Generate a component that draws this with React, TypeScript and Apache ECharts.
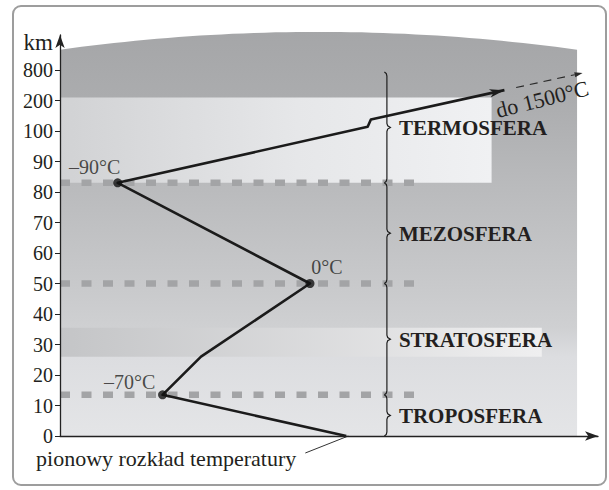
import React, { useEffect, useRef } from 'react';
import * as echarts from 'echarts';

// ---- data ----
const tickLabels = ['0', '10', '20', '30', '40', '50', '60', '70', '80', '90', '100', '200', '800'];
const tickPositions = [0, 1, 2, 3, 4, 5, 6, 7, 8, 9, 10, 11, 12];

const curveTemp = [17, -69, -51, 0, -90, 27, 28.5, 91];
const curveKm = [0, 13.5, 26, 50, 83, 114, 138, 404];

const markerTemp = [-69, 0, -90];
const markerKm = [13.5, 50, 83];
const markerText = ['–70°C', '0°C', '–90°C'];

const layerNames = ['TROPOSFERA', 'STRATOSFERA', 'MEZOSFERA', 'TERMOSFERA'];
const layerBottomKm = [0, 13.5, 50, 83];
const layerTopKm = [13.5, 50, 83, 760];

const boundaryKm = [13.5, 50, 83];

const thermoBandKm = [83, 260];
const thermoBandTemp = [-117, 85];
const stratoBandKm = [26, 35.5];
const stratoBandTemp = [-117, 108.5];

const skyTemp = [-117, 125];
const skyTopKm = [1200, 1550];

const tempRange = [-117, 134.8];
const kmAxisMax = 13.15;
const braceTemp = 36;
const dashEndTemp = 49;
const caption = 'pionowy rozkład temperatury';
const arrowNote = 'do 1500°C';
const axisUnit = 'km';

// piecewise axis position for altitude (0-100 km linear, then 100→200→800)
function yPos(km: number): number {
  if (km <= 100) return km / 10;
  if (km <= 200) return 10 + (km - 100) / 100;
  return 11 + (km - 200) / 600;
}

const SERIF = '"Liberation Serif", "DejaVu Serif", serif';
const INK = '#231f20';

export default function App() {
  const ref = useRef<HTMLDivElement>(null);

  useEffect(() => {
    if (!ref.current) return;
    const chart = echarts.init(ref.current, undefined, { renderer: 'svg' });

    const option: any = {
      animation: false,
      backgroundColor: '#ffffff',
      grid: { left: 60, right: 11, top: 436 - kmAxisMax * 30.5, bottom: 54 },
      xAxis: {
        type: 'value',
        min: tempRange[0],
        max: tempRange[1],
        z: 10,
        axisLine: {
          show: true,
          onZero: false,
          symbol: ['none', 'arrow'],
          symbolSize: [7, 13],
          lineStyle: { color: '#222', width: 1.3 },
        },
        axisTick: { show: false },
        axisLabel: { show: false },
        splitLine: { show: false },
      },
      yAxis: {
        type: 'value',
        min: 0,
        max: kmAxisMax,
        z: 10,
        axisLine: {
          show: true,
          onZero: false,
          symbol: ['none', 'arrow'],
          symbolSize: [7, 13],
          lineStyle: { color: '#222', width: 1.3 },
        },
        axisTick: {
          show: true,
          length: 5,
          customValues: tickPositions,
          lineStyle: { color: '#222', width: 1 },
        },
        axisLabel: {
          customValues: tickPositions,
          formatter: (v: number) => tickLabels[Math.round(v)] ?? '',
          margin: 7,
          fontFamily: SERIF,
          fontSize: 20,
          color: INK,
        },
        splitLine: { show: false },
      },
      graphic: [
        {
          type: 'rect',
          shape: { x: 13, y: 6, width: 593, height: 479, r: 8 },
          style: { fill: 'none', stroke: '#9d9d9d', lineWidth: 2 },
          silent: true,
        },
        {
          type: 'text',
          x: 53,
          y: 42,
          style: { text: axisUnit, font: `23px ${SERIF}`, fill: INK, align: 'right', verticalAlign: 'middle' },
          silent: true,
        },
      ],
      series: [
        // sky background
        {
          type: 'custom',
          coordinateSystem: 'cartesian2d',
          z: 1,
          silent: true,
          clip: false,
          data: [[skyTemp[0], 0]],
          renderItem: (params: any, api: any) => {
            const [x0, yb] = api.coord([skyTemp[0], 0]);
            const [x1] = api.coord([skyTemp[1], 0]);
            const yEdge = api.coord([skyTemp[0], yPos(skyTopKm[0])])[1];
            const yPeak = api.coord([skyTemp[0], yPos(skyTopKm[1])])[1];
            const pts: number[][] = [[x0, yb], [x1, yb]];
            const mid = (x0 + x1) / 2;
            const half = (x1 - x0) / 2;
            const N = 48;
            for (let i = 0; i <= N; i++) {
              const x = x1 - ((x1 - x0) * i) / N;
              const t = (x - mid) / half;
              pts.push([x, yPeak + (yEdge - yPeak) * t * t]);
            }
            const yAt = (km: number) => api.coord([0, yPos(km)])[1];
            const off = (y: number) => Math.min(1, Math.max(0, (y - yPeak) / (yb - yPeak)));
            const stops = [
              { offset: 0, color: '#a5a6a8' },
              { offset: off(yAt(thermoBandKm[1])), color: '#abacae' },
              { offset: off(yAt(boundaryKm[2])), color: '#b9babc' },
              { offset: off(yAt(boundaryKm[1])), color: '#c8c9cb' },
              { offset: off(yAt(stratoBandKm[1])), color: '#cfd0d2' },
              { offset: off(yAt(stratoBandKm[0])), color: '#dcdde0' },
              { offset: 1, color: '#e4e5e7' },
            ];
            return {
              type: 'polygon',
              shape: { points: pts },
              style: { fill: new echarts.graphic.LinearGradient(0, yPeak, 0, yb, stops, true) },
            };
          },
        },
        // light bands (thermosphere, stratosphere)
        {
          type: 'custom',
          coordinateSystem: 'cartesian2d',
          z: 2,
          silent: true,
          clip: false,
          data: [
            [thermoBandTemp[0], thermoBandKm[0], thermoBandTemp[1], thermoBandKm[1]],
            [stratoBandTemp[0], stratoBandKm[0], stratoBandTemp[1], stratoBandKm[1]],
          ],
          renderItem: (params: any, api: any) => {
            const a = api.coord([api.value(0), yPos(api.value(1))]);
            const b = api.coord([api.value(2), yPos(api.value(3))]);
            const stops =
              params.dataIndex === 0
                ? [
                    { offset: 0, color: '#d1d2d4' },
                    { offset: 0.55, color: '#e6e7e9' },
                    { offset: 1, color: '#f0f1f3' },
                  ]
                : [
                    { offset: 0, color: '#c4c5c7' },
                    { offset: 1, color: '#efeff0' },
                  ];
            return {
              type: 'rect',
              shape: { x: a[0], y: b[1], width: b[0] - a[0], height: a[1] - b[1] },
              style: { fill: new echarts.graphic.LinearGradient(0, 0, 1, 0, stops) },
            };
          },
        },
        // dashed boundary lines
        {
          type: 'custom',
          coordinateSystem: 'cartesian2d',
          z: 3,
          silent: true,
          clip: false,
          data: boundaryKm.map((k) => [tempRange[0], k]),
          renderItem: (params: any, api: any) => {
            const k = api.value(1);
            const a = api.coord([tempRange[0], yPos(k)]);
            const b = api.coord([dashEndTemp, yPos(k)]);
            return {
              type: 'line',
              shape: { x1: a[0], y1: a[1], x2: b[0], y2: b[1] },
              style: { stroke: '#a3a4a6', lineWidth: 6.5, lineDash: [10, 11.5], lineCap: 'butt' },
            };
          },
        },
        // braces and layer names
        {
          type: 'custom',
          coordinateSystem: 'cartesian2d',
          z: 4,
          silent: true,
          clip: false,
          data: layerNames.map((n, i) => [braceTemp, layerBottomKm[i], layerTopKm[i]]),
          renderItem: (params: any, api: any) => {
            const bot = api.coord([braceTemp, yPos(api.value(1))]);
            const top = api.coord([braceTemp, yPos(api.value(2))]);
            const x0 = bot[0];
            const yB = bot[1];
            const yT = top[1];
            const ym = (yT + yB) / 2;
            const c = 4;
            const pts = [
              [x0 - 2.5, yT],
              [x0 - 0.6, yT + 1.6],
              [x0, yT + c],
              [x0, ym - c],
              [x0 + 0.8, ym - 1.6],
              [x0 + 3.5, ym],
              [x0 + 0.8, ym + 1.6],
              [x0, ym + c],
              [x0, yB - c],
              [x0 - 0.6, yB - 1.6],
              [x0 - 2.5, yB],
            ];
            return {
              type: 'group',
              children: [
                {
                  type: 'polyline',
                  shape: { points: pts },
                  style: { stroke: '#1e1e1e', lineWidth: 1.2, fill: 'none' },
                },
                {
                  type: 'text',
                  x: x0 + 12,
                  y: ym + 1,
                  style: {
                    text: layerNames[params.dataIndex],
                    font: `bold 21px ${SERIF}`,
                    fill: INK,
                    align: 'left',
                    verticalAlign: 'middle',
                  },
                },
              ],
            };
          },
        },
        // temperature profile
        {
          type: 'line',
          z: 6,
          silent: true,
          symbol: 'none',
          showSymbol: false,
          clip: false,
          data: curveTemp.map((t, i) => [t, yPos(curveKm[i])]),
          lineStyle: { color: '#1b1b1b', width: 2.6, join: 'round' },
        },
        // markers
        {
          type: 'scatter',
          z: 7,
          silent: true,
          symbol: 'circle',
          symbolSize: 9,
          itemStyle: { color: '#111' },
          data: markerTemp.map((t, i) => ({
            value: [t, yPos(markerKm[i])],
            label: { offset: [[-33, -13], [17, -17], [-23, -16]][i] },
          })),
          label: {
            show: true,
            position: 'inside',
            formatter: (p: any) => markerText[p.dataIndex],
            fontFamily: SERIF,
            fontSize: 20,
            color: INK,
          },
        },
        // arrow head, continuation, notes
        {
          type: 'custom',
          coordinateSystem: 'cartesian2d',
          z: 8,
          silent: true,
          clip: false,
          data: [[curveTemp[curveTemp.length - 1], yPos(curveKm[curveKm.length - 1])]],
          renderItem: (params: any, api: any) => {
            const n = curveTemp.length;
            const T = api.coord([curveTemp[n - 1], yPos(curveKm[n - 1])]);
            const P = api.coord([curveTemp[n - 2], yPos(curveKm[n - 2])]);
            const G = api.coord([curveTemp[0], yPos(curveKm[0])]);
            const dx = T[0] - P[0];
            const dy = T[1] - P[1];
            const len = Math.hypot(dx, dy);
            const u = [dx / len, dy / len];
            const nv = [-u[1], u[0]];
            const at = (base: number[], s: number, q: number) => [base[0] + u[0] * s + nv[0] * q, base[1] + u[1] * s + nv[1] * q];
            const head = [T, at(T, -15, 4.2), at(T, -11, 0), at(T, -15, -4.2)];
            const dStart = at(T, 12, 0);
            const dEnd = at(T, 72, 0);
            const smallHead = [at(T, 80, 0), at(T, 72, 2.6), at(T, 72, -2.6)];
            const noteC = at(T, 35, 17);
            const rot = -Math.atan2(u[1], u[0]) + 0.03;
            return {
              type: 'group',
              children: [
                { type: 'polygon', shape: { points: head }, style: { fill: '#1b1b1b' } },
                {
                  type: 'line',
                  shape: { x1: dStart[0], y1: dStart[1], x2: dEnd[0], y2: dEnd[1] },
                  style: { stroke: '#2a2a2a', lineWidth: 1.1, lineDash: [8, 6] },
                },
                { type: 'polygon', shape: { points: smallHead }, style: { fill: '#2a2a2a' } },
                {
                  type: 'text',
                  x: noteC[0],
                  y: noteC[1],
                  rotation: rot,
                  style: { text: arrowNote, font: `22px ${SERIF}`, fill: INK, align: 'center', verticalAlign: 'middle' },
                },
                {
                  type: 'line',
                  shape: { x1: G[0] - 41, y1: G[1] + 17, x2: G[0] + 2, y2: G[1] },
                  style: { stroke: '#333', lineWidth: 1 },
                },
                {
                  type: 'text',
                  x: G[0] - 50,
                  y: G[1] + 22,
                  style: { text: caption, font: `22px ${SERIF}`, fill: INK, align: 'right', verticalAlign: 'middle' },
                },
              ],
            };
          },
        },
      ],
    };

    chart.setOption(option);
    return () => chart.dispose();
  }, []);

  return (
    <div
      ref={ref}
      style={{ position: 'fixed', left: 0, top: 0, width: 609, height: 490, background: '#fff' }}
    />
  );
}
